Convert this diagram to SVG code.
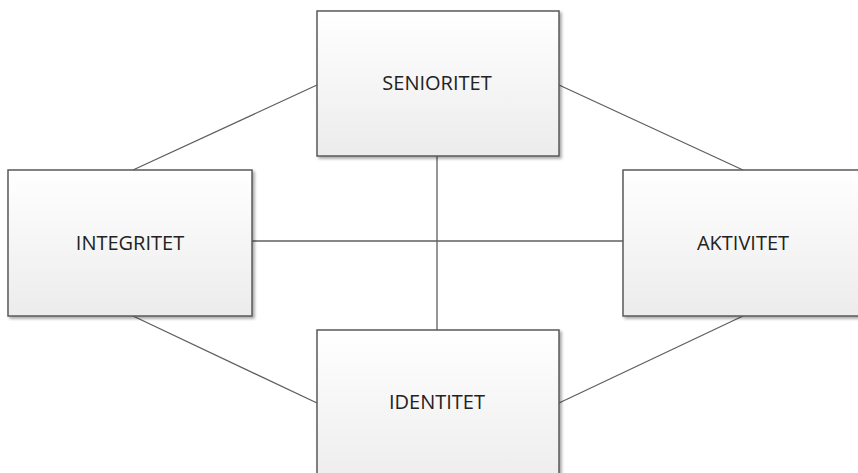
<svg xmlns="http://www.w3.org/2000/svg" width="858" height="473" viewBox="0 0 858 473">
<defs>
<linearGradient id="g" x1="0" y1="0" x2="0" y2="1">
<stop offset="0" stop-color="#ffffff"/>
<stop offset="1" stop-color="#ececec"/>
</linearGradient>
<filter id="sh" x="-10%" y="-10%" width="120%" height="120%">
<feGaussianBlur in="SourceAlpha" stdDeviation="1.5"/>
<feOffset dx="1.5" dy="1.5" result="b"/>
<feComponentTransfer><feFuncA type="linear" slope="0.35"/></feComponentTransfer>
<feMerge><feMergeNode/><feMergeNode in="SourceGraphic"/></feMerge>
</filter>
</defs>
<style>
.box{fill:url(#g);stroke:#5a5a5a;stroke-width:1.5;filter:url(#sh)}
.lbl{font-family:"Open Sans","Liberation Sans",sans-serif;font-size:20px;fill:#222;text-anchor:middle}
.ln{stroke:#5f5f5f;stroke-width:1.3;fill:none}
</style>
<rect width="858" height="473" fill="#ffffff"/>
<g id="connectors">
<line class="ln" x1="317" y1="85" x2="133" y2="170"/>
<line class="ln" x1="559" y1="85" x2="743" y2="170"/>
<line class="ln" x1="437" y1="156" x2="437" y2="330"/>
<line class="ln" x1="252" y1="241" x2="623" y2="241"/>
<line class="ln" x1="133" y1="316" x2="317" y2="403"/>
<line class="ln" x1="743" y1="316" x2="559" y2="403"/>
</g>
<g id="senioritet">
<rect class="box" x="317" y="11" width="242" height="145"/>
<text class="lbl" x="437" y="90">SENIORITET</text>
</g>
<g id="integritet">
<rect class="box" x="8" y="170" width="244" height="146"/>
<text class="lbl" x="130" y="250">INTEGRITET</text>
</g>
<g id="aktivitet">
<rect class="box" x="623" y="170" width="244" height="146"/>
<text class="lbl" x="743" y="250">AKTIVITET</text>
</g>
<g id="identitet">
<rect class="box" x="317" y="330" width="242" height="160"/>
<text class="lbl" x="437" y="409">IDENTITET</text>
</g>
</svg>
